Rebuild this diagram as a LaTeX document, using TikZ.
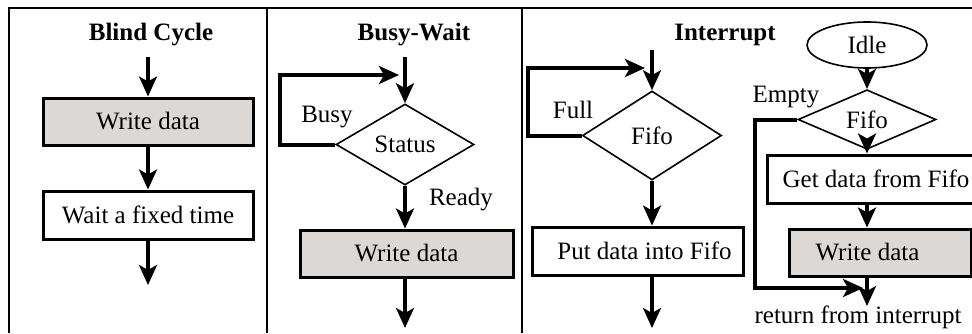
\documentclass[tikz,border=0pt]{standalone}
\usepackage{fontspec}
\setmainfont{Liberation Serif}
\usetikzlibrary{shapes.geometric,arrows.meta,positioning}
\definecolor{boxgray}{RGB}{220,216,214}

\begin{document}
\begin{tikzpicture}[x=0.5pt, y=-0.5pt,
    every node/.style={font=\fontsize{12.5}{15}\selectfont, inner sep=1pt},
    proc/.style={rectangle, draw, line width=1.5pt, minimum height=23.5pt, text centered},
    wrbox/.style={proc, fill=boxgray},
    test/.style={diamond, draw, line width=0.8pt, inner sep=0pt},
    title/.style={font=\fontsize{12.5}{15}\selectfont\bfseries},
    flow/.style={-{Stealth[length=10pt, width=9pt, inset=2.5pt]}, line width=1.6pt},
    loop/.style={flow, line width=2pt},
    frame/.style={line width=1.3pt}
]
\useasboundingbox (0,0) rectangle (972,333);
\clip (0,0) rectangle (972,333);

% Frame
\draw[frame] (9,333) -- (9,8) -- (980,8);
\draw[frame] (267,8) -- (267,333);
\draw[frame] (522,8) -- (522,333);

% Blind cycle
\node[title] (t1) at (151,35) {Blind Cycle};
\coordinate (in1) at (148,57);
\node[wrbox, minimum width=105pt] (wd1) at (148,121.5) {Write data};
\node[proc, minimum width=105pt, minimum height=24pt] (wait) at (148,215) {Wait a fixed time};
\coordinate (out1) at (148,285);
\draw[flow] (in1) -- (wd1);
\draw[flow] (wd1) -- (wait);
\draw[flow] (wait) -- (out1);

% Busy-wait
\node[title] (t2) at (414,35) {Busy-Wait};
\coordinate (in2) at (405,57);
\node[test, minimum width=69pt, minimum height=40.5pt] (status) at (405,144.5) {Status};
\node (busy) at (327,117) {Busy};
\node (ready) at (461,200) {Ready};
\node[wrbox, minimum width=106.5pt] (wd2) at (406.5,253.5) {Write data};
\coordinate (out2) at (405,328);
\coordinate (busyend) at (399,75);
\draw[flow] (in2) -- (status.north);
\draw[loop] (status.west) -- (280,144.5) |- (busyend);
\draw[flow] (status.south) -- (status.south |- wd2.north);
\draw[flow] (wd2.south -| status) -- (out2);

% Interrupt, main program
\node[title] (t3) at (725,35) {Interrupt};
\coordinate (in3) at (652,50);
\node[test, minimum width=69.5pt, minimum height=44.5pt] (fifo1) at (652,135.5) {Fifo};
\node (full) at (573,110) {Full};
\node[proc, minimum width=105.5pt, minimum height=24pt] (put) at (637.5,251) {\hspace*{7pt}Put data into Fifo};
\coordinate (out3) at (652,328);
\coordinate (fullend) at (645,68);
\draw[flow] (in3) -- (fifo1.north);
\draw[loop] (fifo1.west) -- (528,135.5) |- (fullend);
\draw[flow] (fifo1.south) -- (fifo1.south |- put.north);
\draw[flow] (put.south -| fifo1) -- (out3);

% Interrupt, handler
\node[ellipse, draw, line width=0.8pt, minimum width=60pt, minimum height=23pt, inner sep=0pt] (idle) at (867,45) {Idle};
\node[test, minimum width=69pt, minimum height=27.5pt] (fifo2) at (867,119.5) {Fifo};
\node (empty) at (786,97) {Empty};
\node[proc, minimum width=109pt, minimum height=24pt] (get) at (876,179) {Get data from Fifo};
\node[wrbox, minimum width=91pt] (wd3) at (880,252.5) {Write data\hspace*{12.5pt}};
\coordinate (ret) at (867,306);
\coordinate (emptyend) at (863,288);
\node (retlbl) at (858,317) {return from interrupt};
\draw[flow] (idle) -- (fifo2);
\draw[flow] ([yshift=3pt]fifo2.south) -- (fifo2.south |- get.north);
\draw[flow] (get.south -| fifo2) -- (fifo2 |- wd3.north);
\draw[flow] (wd3.south -| fifo2) -- (ret);
\draw[loop] (fifo2.west) -- (755,119.5) |- (emptyend);

\end{tikzpicture}
\end{document}
